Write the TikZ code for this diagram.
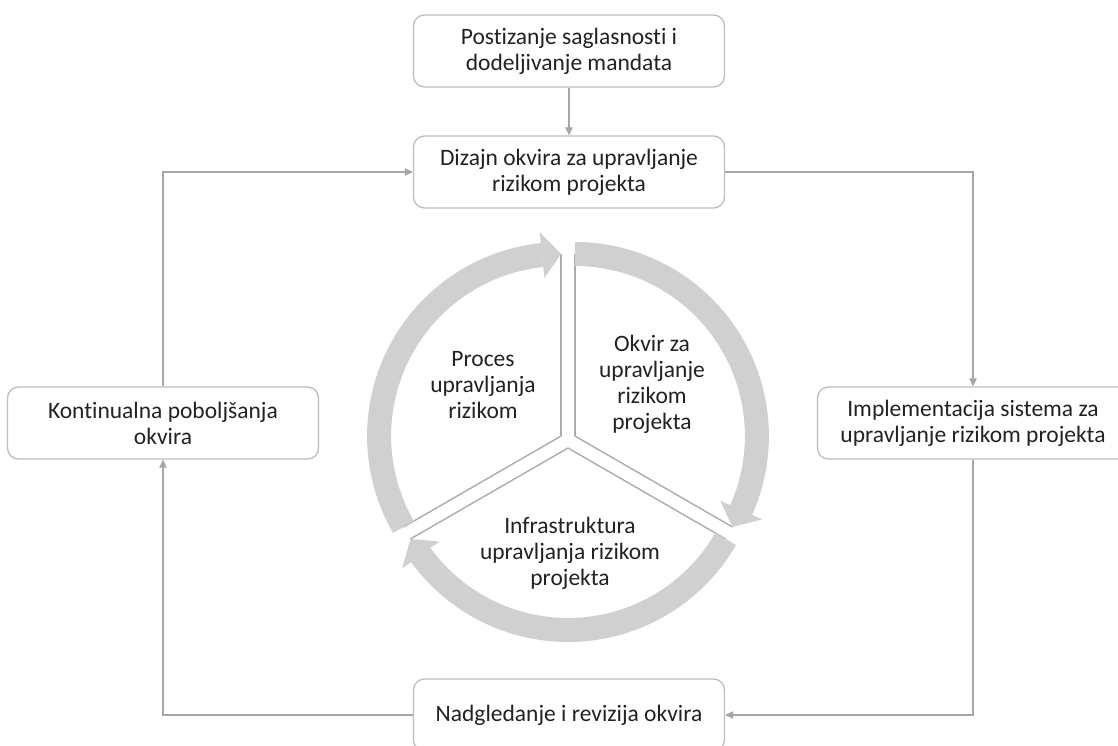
\documentclass[tikz,border=0pt]{standalone}
\usepackage{fontspec}
\setmainfont[Ligatures=NoCommon]{Carlito}
\usetikzlibrary{arrows.meta}
\definecolor{bandc}{RGB}{208,208,208}
\definecolor{boxc}{RGB}{190,190,190}
\definecolor{connc}{RGB}{166,166,166}
\definecolor{segc}{RGB}{172,172,172}
\definecolor{txtc}{RGB}{34,34,34}
\newcommand\ringseg[3]{%
  \begin{scope}[shift={#1}]
    \draw[segline] (0,0) -- (#2:182pt);
    \draw[segline] (0,0) -- (#3:182pt);
    \fill[bandc] (#2:194pt) arc[start angle=#2, end angle={#3+6}, radius=194pt]
      -- ({#3+6}:170pt) arc[start angle={#3+6}, end angle=#2, radius=170pt] -- cycle;
    \fill[bandc] ({#3+6}:205pt) -- (#3:182pt) -- ({#3+6}:159pt) -- cycle;
  \end{scope}}
\begin{document}
\begin{tikzpicture}[x=1pt,y=1pt,
  txt/.style={font=\fontsize{23.5pt}{26pt}\selectfont, text=txtc, align=center},
  box/.style={txt, draw=boxc, line width=1.3pt, rounded corners=11pt, fill=white,
    minimum width=311pt, minimum height=72pt, inner sep=2pt},
  conn/.style={draw=connc, line width=1.2pt, -{Triangle[length=8pt,width=7.5pt]}},
  segline/.style={draw=segc, line width=1.4pt}]
\useasboundingbox (0,0) rectangle (1118,745);
\fill[white] (0,0) rectangle (1118,745);

\node[box] (top) at (569,694) {Postizanje saglasnosti i\\dodeljivanje mandata};
\node[box] (design) at (569,573) {Dizajn okvira za upravljanje\\rizikom projekta};
\node[box] (left) at (163,322) {Kontinualna poboljšanja\\okvira};
\node[box] (right) at (973,322) {Implementacija sistema za\\upravljanje rizikom projekta};
\node[box] (bottom) at (569,30) {Nadgledanje i revizija okvira};

\draw[conn] (top) -- (design);
\draw[conn] (design.east) -| (right.north);
\draw[conn] (right.south) |- (bottom.east);
\draw[conn] (bottom.west) -| (left.south);
\draw[conn] (left.north) |- (design.west);

% central segmented cycle
\ringseg{(561.1,309)}{210}{90}
\ringseg{(574.9,309)}{90}{-30}
\ringseg{(568,297)}{330}{210}

\node[txt] (proc) at (483,360) {Proces\\upravljanja\\rizikom};
\node[txt] (okv) at (652,361) {Okvir za\\upravljanje\\rizikom\\projekta};
\node[txt] (infra) at (570,192) {Infrastruktura\\upravljanja rizikom\\projekta};
\end{tikzpicture}
\end{document}
